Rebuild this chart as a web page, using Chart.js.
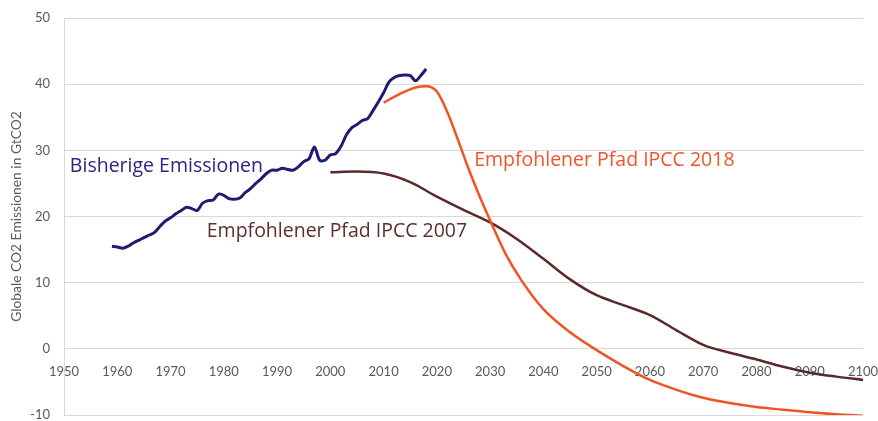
<!DOCTYPE html>
<html>
<head>
<meta charset="utf-8">
<script src="https://cdn.jsdelivr.net/npm/chart.js@4.4.1/dist/chart.umd.min.js"></script>
<style>
    html, body { margin: 0; padding: 0; background: #fff; }
    #wrap { width: 878px; height: 421px; position: relative; }
</style>
</head>
<body>
<div id="wrap"><canvas id="co2Chart"></canvas></div>
<script>
// Bisherige Emissionen (GtCO2), 1959-2018
const histYears = [];
for (let yr = 1959; yr <= 2018; yr++) histYears.push(yr);
const histValues = [
    15.5, 15.4, 15.2, 15.5, 16.0, 16.4, 16.8, 17.2, 17.6, 18.5,
    19.3, 19.8, 20.4, 20.9, 21.4, 21.2, 20.9, 22.0, 22.4, 22.5,
    23.4, 23.2, 22.7, 22.6, 22.8, 23.6, 24.2, 25.0, 25.7, 26.5,
    27.0, 27.0, 27.3, 27.1, 27.0, 27.5, 28.3, 28.7, 30.5, 28.5,
    28.5, 29.3, 29.5, 30.6, 32.3, 33.4, 33.9, 34.5, 34.8, 36.0,
    37.3, 38.7, 40.3, 41.0, 41.3, 41.4, 41.3, 40.5, 41.3, 42.3
];

// Empfohlener Pfad IPCC 2018
const ipcc2018Years = [2010, 2013, 2016, 2018, 2020, 2022, 2024, 2026, 2028, 2030, 2033, 2036, 2040, 2045, 2050, 2055, 2060, 2065, 2070, 2075, 2080, 2085, 2090, 2095, 2100];
const ipcc2018Values = [37.2, 38.5, 39.5, 39.7, 38.9, 35.7, 31.5, 27.1, 23.1, 19.4, 14.2, 10.2, 6.0, 2.5, -0.2, -2.6, -4.7, -6.2, -7.4, -8.2, -8.8, -9.2, -9.6, -9.9, -10.1];

// Empfohlener Pfad IPCC 2007
const ipcc2007Years = [2000, 2005, 2010, 2015, 2020, 2025, 2030, 2035, 2040, 2045, 2050, 2055, 2060, 2065, 2070, 2075, 2080, 2085, 2090, 2095, 2100];
const ipcc2007Values = [26.7, 26.8, 26.5, 25.2, 23.0, 21.0, 19.1, 16.6, 13.6, 10.5, 8.1, 6.6, 5.1, 2.8, 0.6, -0.6, -1.6, -2.7, -3.6, -4.2, -4.7];

const seriesLabels = [
    { text: 'Bisherige Emissionen', x: 1951.1, y: 27.5, color: '#2a2580' },
    { text: 'Empfohlener Pfad IPCC 2018', x: 2027.0, y: 28.5, color: '#f0552a' },
    { text: 'Empfohlener Pfad IPCC 2007', x: 1976.8, y: 17.7, color: '#5c2e2e' }
];

function toPoints(xs, ys) {
    return xs.map((x, i) => ({ x: x, y: ys[i] }));
}

const labelPlugin = {
    id: 'seriesLabels',
    afterDatasetsDraw(chart) {
        const ctx = chart.ctx;
        const xs = chart.scales.x;
        const ys = chart.scales.y;
        ctx.save();
        ctx.font = '19.5px "Open Sans"';
        ctx.textBaseline = 'middle';
        ctx.textAlign = 'left';
        seriesLabels.forEach(l => {
            ctx.fillStyle = l.color;
            ctx.fillText(l.text, xs.getPixelForValue(l.x), ys.getPixelForValue(l.y));
        });
        ctx.restore();
    }
};

var ctx = document.getElementById('co2Chart').getContext('2d');
var co2Chart = new Chart(ctx, {
    type: 'line',
    data: {
        datasets: [
            {
                label: 'Bisherige Emissionen',
                data: toPoints(histYears, histValues),
                borderColor: '#1f1b6e',
                borderWidth: 3,
                pointRadius: 0,
                tension: 0.3,
                fill: false
            },
            {
                label: 'Empfohlener Pfad IPCC 2018',
                data: toPoints(ipcc2018Years, ipcc2018Values),
                borderColor: '#f05423',
                borderWidth: 2.5,
                pointRadius: 0,
                cubicInterpolationMode: 'monotone',
                fill: false
            },
            {
                label: 'Empfohlener Pfad IPCC 2007',
                data: toPoints(ipcc2007Years, ipcc2007Values),
                borderColor: '#5a2a2a',
                borderWidth: 2.5,
                pointRadius: 0,
                cubicInterpolationMode: 'monotone',
                fill: false
            }
        ]
    },
    options: {
        responsive: true,
        maintainAspectRatio: false,
        animation: false,
        layout: {
            padding: { top: 18, right: 15, bottom: 6, left: 0 }
        },
        scales: {
            x: {
                type: 'linear',
                position: { y: 0 },
                min: 1950,
                max: 2100,
                afterFit: function(scale) {
                    scale.height = 0;
                    scale.paddingLeft = 0;
                    scale.paddingRight = 0;
                },
                grid: { display: false, drawTicks: false },
                border: { display: false },
                ticks: {
                    stepSize: 10,
                    padding: 15,
                    color: '#595959',
                    font: { family: 'Lato', size: 13 },
                    maxRotation: 0,
                    callback: v => String(v)
                }
            },
            y: {
                min: -10,
                max: 50,
                afterFit: function(scale) {
                    scale.width = 64;
                    scale.paddingTop = 0;
                    scale.paddingBottom = 0;
                },
                grid: { color: '#d9d9d9', lineWidth: 1, drawTicks: false },
                border: { display: true, color: '#d9d9d9' },
                ticks: {
                    stepSize: 10,
                    padding: 14,
                    color: '#595959',
                    font: { family: 'Lato', size: 13 }
                },
                title: {
                    display: true,
                    text: 'Globale CO2 Emissionen in GtCO2',
                    color: '#595959',
                    font: { family: 'Lato', size: 13.8 },
                    padding: { top: 8, bottom: 0 }
                }
            }
        },
        plugins: {
            legend: { display: false },
            tooltip: { enabled: false }
        }
    },
    plugins: [labelPlugin]
});
</script>
</body>
</html>
